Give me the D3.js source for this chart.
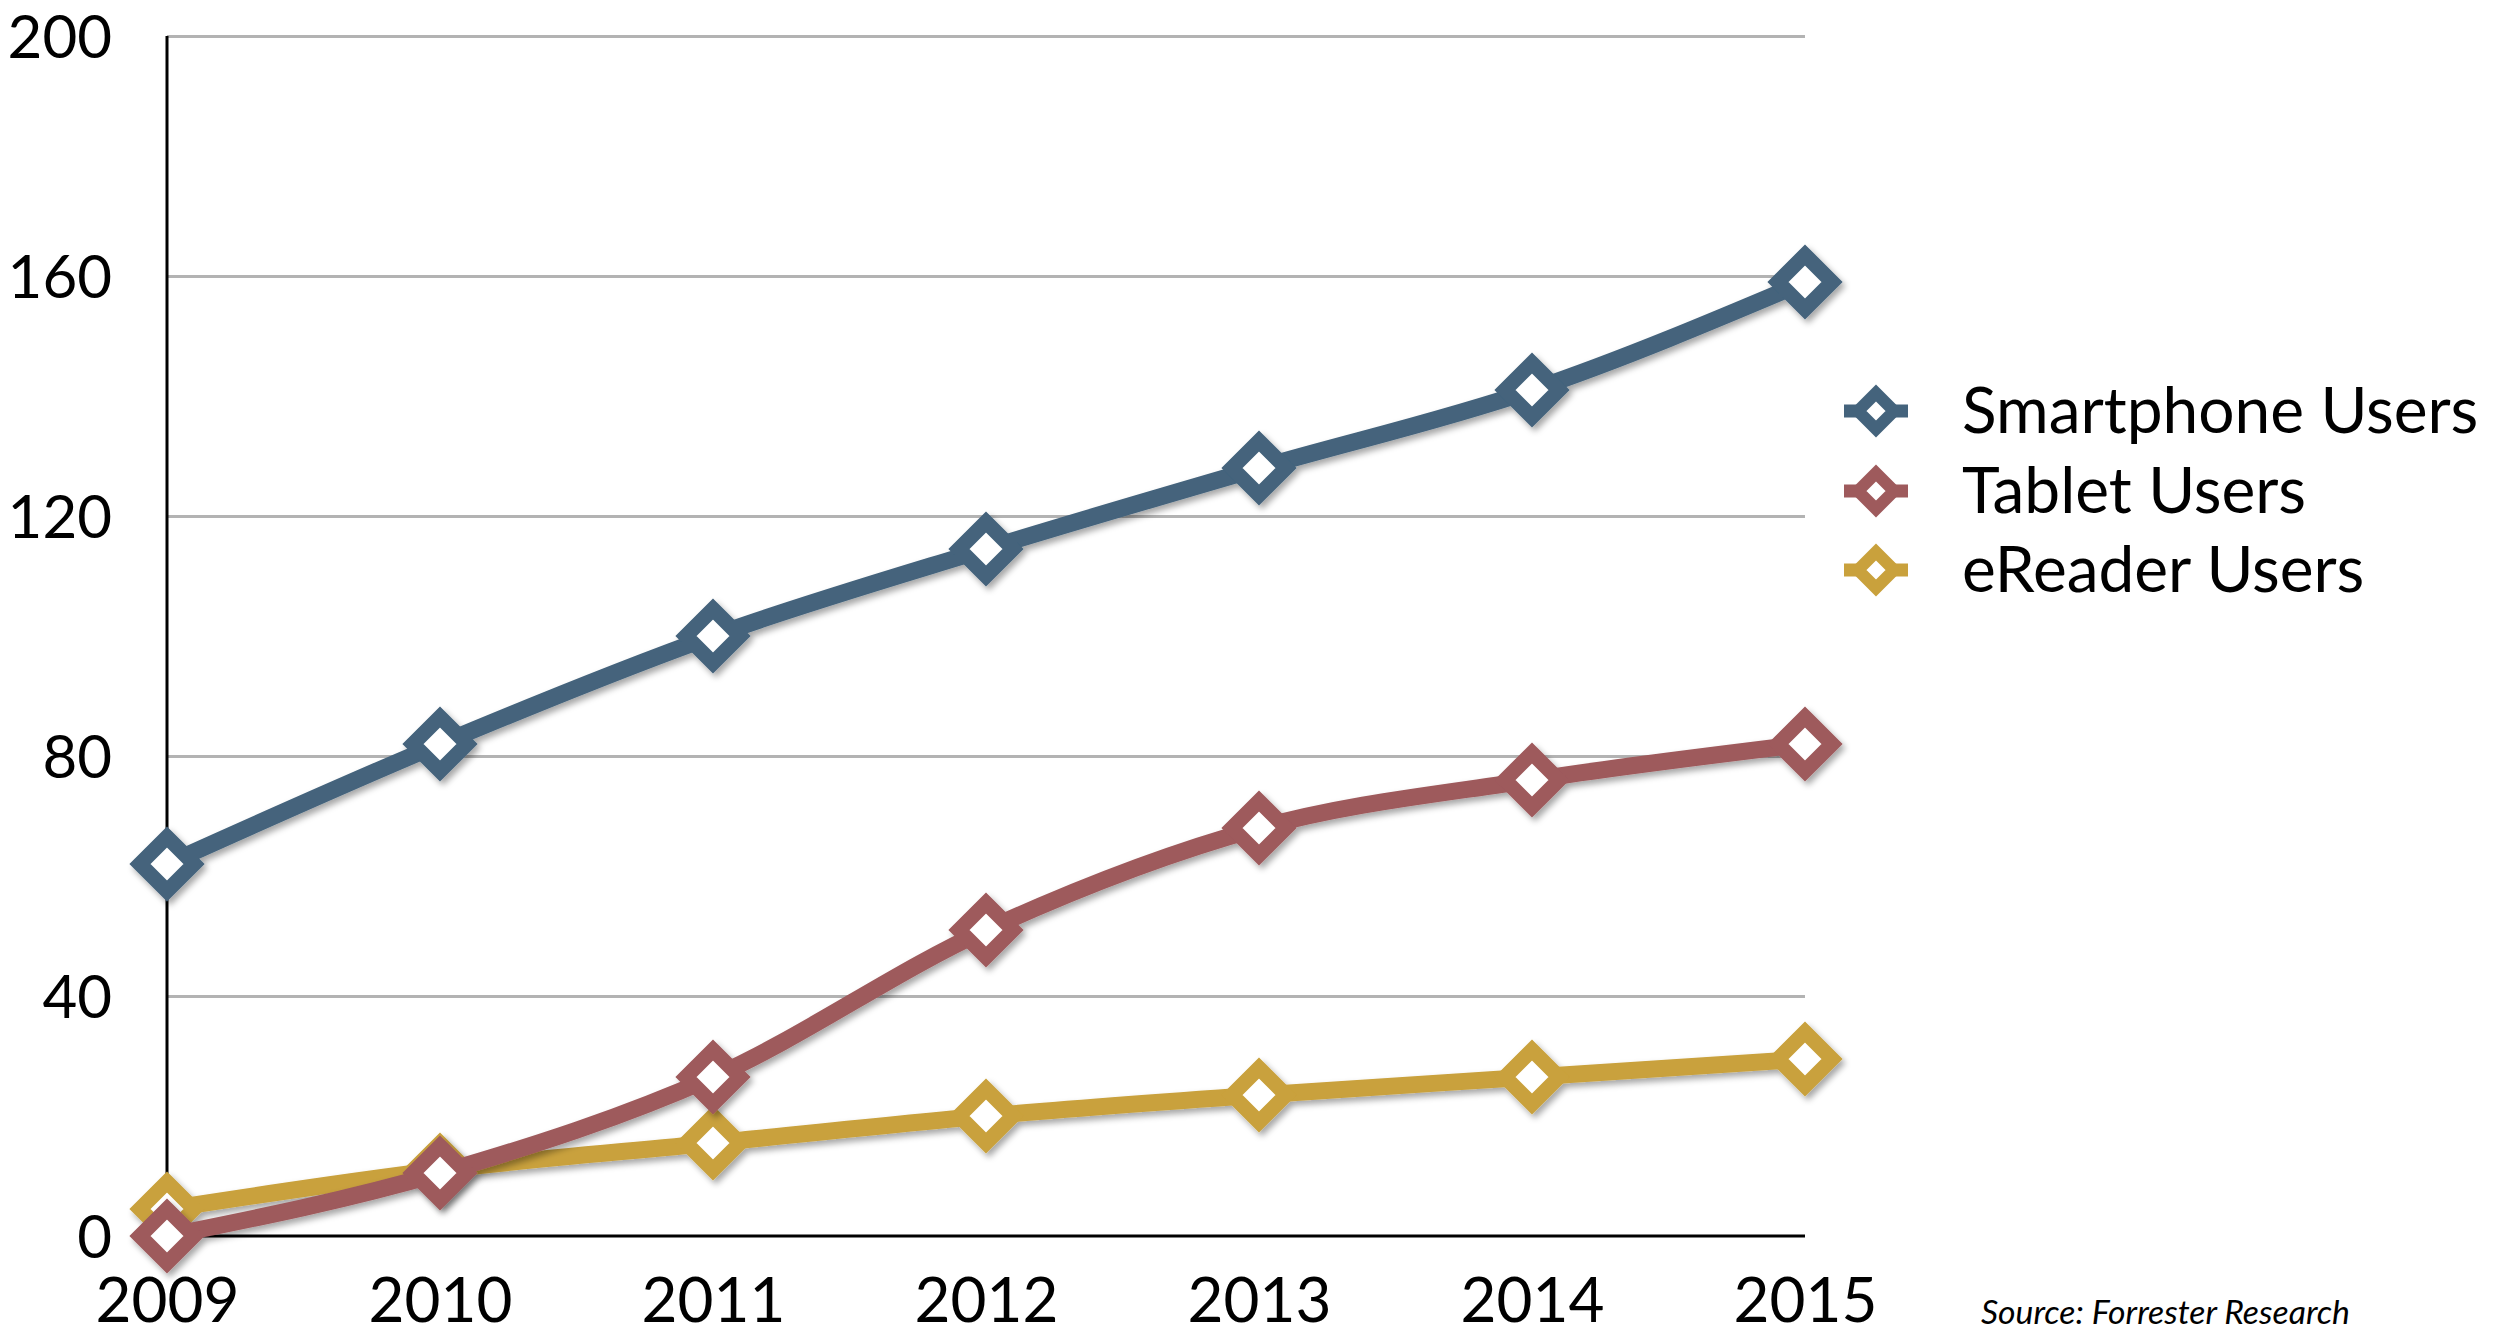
<!DOCTYPE html>
<html><head><meta charset="utf-8">
<script src="https://cdn.jsdelivr.net/npm/d3@7"></script>
<style>html,body{margin:0;padding:0;background:#fff;}svg{display:block;}</style>
</head><body>
<svg id="chart" width="2520" height="1336"></svg>
<script>
const years = ["2009","2010","2011","2012","2013","2014","2015"];
const yTicks = [0,40,80,120,160,200];
const smartphone = [62,82,100,114.5,128,141,159];
const tablet = [0,10.5,26.5,51,68,76,82];
const ereader = [4.5,11,15.5,20,23.5,26.5,29.5];
const seriesNames = ["Smartphone Users","Tablet Users","eReader Users"];
const seriesColors = ["#44637c","#9e5a5c","#c9a13c"];
const source = "Source: Forrester Research";

const svg = d3.select("#chart");
const font = "Lato, 'Open Sans', sans-serif";
const x = d3.scalePoint().domain(years).range([167,1805]);
const y = d3.scaleLinear().domain([0,200]).range([1236,36]);

const defs = svg.append("defs");
const f = defs.append("filter").attr("id","shadow").attr("x","-20%").attr("y","-20%").attr("width","140%").attr("height","140%");
f.append("feDropShadow").attr("dx",3).attr("dy",4).attr("stdDeviation",3).attr("flood-color","#000").attr("flood-opacity",0.35);

// gridlines
const grid = d3.axisLeft(y).tickValues(yTicks.filter(d=>d>0)).tickSize(-(1805-167)).tickFormat("");
svg.append("g").attr("transform","translate(167,0)").call(grid)
  .call(g=>g.select(".domain").remove())
  .call(g=>g.selectAll("line").attr("stroke","#b3b3b3").attr("stroke-width",3));

// y axis labels
const yAxis = d3.axisLeft(y).tickValues(yTicks).tickSize(0).tickPadding(55).tickFormat(d3.format("d"));
svg.append("g").attr("transform","translate(167,0)").call(yAxis)
  .call(g=>g.select(".domain").remove())
  .call(g=>g.selectAll("text").attr("font-family",font).attr("font-size",60).attr("fill","#000").attr("dy","0.35em"));

// axes lines
svg.append("line").attr("x1",167).attr("x2",167).attr("y1",y(200)).attr("y2",y(0)).attr("stroke","#000").attr("stroke-width",3);
svg.append("line").attr("x1",167).attr("x2",1805).attr("y1",y(0)).attr("y2",y(0)).attr("stroke","#000").attr("stroke-width",3);

// x labels
const xAxis = d3.axisBottom(x).tickSize(0).tickPadding(42);
svg.append("g").attr("transform",`translate(0,${y(0)})`).call(xAxis)
  .call(g=>g.select(".domain").remove())
  .call(g=>g.selectAll("text").attr("font-family",font).attr("font-size",62).attr("fill","#000"));

const seriesData = [smartphone, tablet, ereader];
const line = d3.line().x((d,i)=>x(years[i])).y(d=>y(d)).curve(d3.curveMonotoneX);
const diamond = (cx,cy,h)=>`M${cx},${cy-h}L${cx+h},${cy}L${cx},${cy+h}L${cx-h},${cy}Z`;

[2,1,0].forEach(si=>{
  const g = svg.append("g").attr("filter","url(#shadow)");
  g.append("path").datum(seriesData[si]).attr("d",line).attr("fill","none")
    .attr("stroke",seriesColors[si]).attr("stroke-width",17).attr("stroke-linejoin","round");
  g.selectAll("path.m").data(seriesData[si]).enter().append("path").attr("class","m")
    .attr("d",(d,i)=>diamond(x(years[i]),y(d),27))
    .attr("fill","#fff").attr("stroke",seriesColors[si]).attr("stroke-width",15).attr("stroke-linejoin","miter");
});

// legend
const legY = [411,491,570];
seriesNames.forEach((n,i)=>{
  const lg = svg.append("g");
  lg.append("line").attr("x1",1844).attr("x2",1908).attr("y1",legY[i]).attr("y2",legY[i])
    .attr("stroke",seriesColors[i]).attr("stroke-width",13);
  lg.append("path").attr("d",diamond(1876,legY[i],18)).attr("fill","#fff")
    .attr("stroke",seriesColors[i]).attr("stroke-width",12).attr("stroke-linejoin","miter");
  lg.append("text").attr("x",1962).attr("y",legY[i]+22).attr("font-family",font).attr("font-size",64)
    .attr("fill","#000").text(n);
});

svg.append("text").attr("x",1981).attr("y",1324).attr("font-family",font).attr("font-style","italic")
  .attr("font-size",33).attr("fill","#000").attr("textLength",369).attr("lengthAdjust","spacingAndGlyphs").text(source);
</script>
</body></html>
